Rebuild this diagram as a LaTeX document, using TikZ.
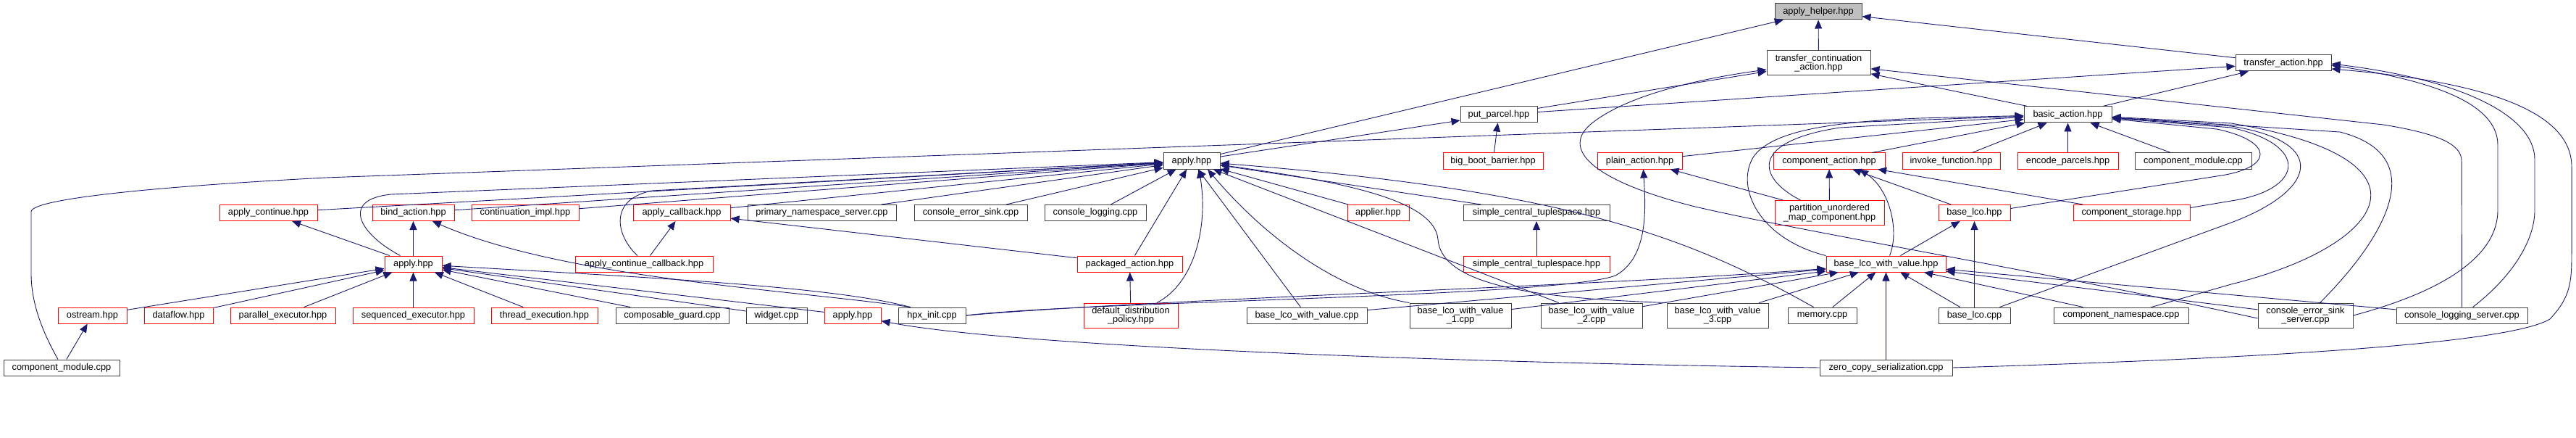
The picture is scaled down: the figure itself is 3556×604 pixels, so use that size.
\documentclass[tikz,border=0pt]{standalone}
\usepackage{fontspec}
\setmainfont{Liberation Sans}
\usepackage{xcolor}
\usetikzlibrary{arrows.meta}
\definecolor{edgeblue}{HTML}{191970}
\definecolor{boxgray}{HTML}{404040}
\definecolor{rootfill}{HTML}{BFBFBF}

\begin{document}
\begin{tikzpicture}[
  x=1pt, y=-1pt,
  box/.style={draw=boxgray, line width=1pt, inner sep=0pt, minimum height=22pt, align=center, font=\fontsize{12.8}{12.6}\selectfont},
  redbox/.style={box, draw=red},
  tall/.style={minimum height=34pt},
  arrow/.style={-{Triangle[length=12pt,width=10pt]}, draw=edgeblue, line width=0.9pt},
]
\useasboundingbox (0,0) rectangle (3556,604);

\node[box, fill=rootfill, minimum width=120pt] (helper) at (2510,16) {apply\_helper.hpp};
\node[box, tall, minimum width=143pt] (tca) at (2510.5,87) {transfer\_continuation\\\_action.hpp};
\node[box, minimum width=132pt] (tra) at (3152,87) {transfer\_action.hpp};
\node[box, minimum width=106pt] (putp) at (2069,158) {put\_parcel.hpp};
\node[box, minimum width=121pt] (basic) at (2854.5,158) {basic\_action.hpp};

\node[box, minimum width=78pt] (apply) at (1645,222) {apply.hpp};
\node[redbox, minimum width=138pt] (bigboot) at (2061,222) {big\_boot\_barrier.hpp};
\node[redbox, minimum width=117pt] (plain) at (2263.5,222) {plain\_action.hpp};
\node[redbox, minimum width=154pt] (compact) at (2525,222) {component\_action.hpp};
\node[redbox, minimum width=135pt] (invoke) at (2693.5,222) {invoke\_function.hpp};
\node[redbox, minimum width=139pt] (encode) at (2854.5,222) {encode\_parcels.hpp};
\node[box, minimum width=161pt] (cmodr) at (3027.5,222) {component\_module.cpp};

\node[redbox, minimum width=135pt] (applycont) at (370.5,293.5) {apply\_continue.hpp};
\node[redbox, minimum width=113pt] (bind) at (570.5,293.5) {bind\_action.hpp};
\node[redbox, minimum width=148pt] (contimpl) at (725,293.5) {continuation\_impl.hpp};
\node[redbox, minimum width=134pt] (applycb) at (941,293.5) {apply\_callback.hpp};
\node[box, minimum width=205pt] (primary) at (1134.5,293.5) {primary\_namespace\_server.cpp};
\node[box, minimum width=156pt] (cesink) at (1340,293.5) {console\_error\_sink.cpp};
\node[box, minimum width=140pt] (clog) at (1512,293.5) {console\_logging.cpp};
\node[redbox, minimum width=85pt] (applier) at (1902.5,293.5) {applier.hpp};
\node[box, minimum width=202pt] (sctsb) at (2121,293.5) {simple\_central\_tuplespace.hpp};
\node[redbox, tall, minimum width=151pt] (partition) at (2525.5,293.5) {partition\_unordered\\\_map\_component.hpp};
\node[redbox, minimum width=99pt] (baselco) at (2725.5,293.5) {base\_lco.hpp};
\node[redbox, minimum width=161pt] (compstor) at (2942.5,293.5) {component\_storage.hpp};

\node[redbox, minimum width=79pt] (applyr) at (570.5,364) {apply.hpp};
\node[redbox, minimum width=190pt] (acc) at (889,364) {apply\_continue\_callback.hpp};
\node[redbox, minimum width=145pt] (packaged) at (1559.5,364) {packaged\_action.hpp};
\node[redbox, minimum width=202pt] (sctsr) at (2121,364) {simple\_central\_tuplespace.hpp};
\node[redbox, minimum width=165pt] (blwv) at (2603.5,364) {base\_lco\_with\_value.hpp};

\node[redbox, minimum width=95pt] (ostream) at (127.5,435) {ostream.hpp};
\node[redbox, minimum width=95pt] (dataflow) at (246.5,435) {dataflow.hpp};
\node[redbox, minimum width=145pt] (parallel) at (390.5,435) {parallel\_executor.hpp};
\node[redbox, minimum width=167pt] (seqexec) at (570.5,435) {sequenced\_executor.hpp};
\node[redbox, minimum width=147pt] (threadex) at (751.5,435) {thread\_execution.hpp};
\node[box, minimum width=156pt] (guard) at (928,435) {composable\_guard.cpp};
\node[box, minimum width=84pt] (widget) at (1072,435) {widget.cpp};
\node[redbox, minimum width=78pt] (applyb) at (1177,435) {apply.hpp};
\node[box, minimum width=93pt] (hpxinit) at (1286.5,435) {hpx\_init.cpp};
\node[redbox, tall, minimum width=130pt] (ddp) at (1561,435) {default\_distribution\\\_policy.hpp};
\node[box, minimum width=166pt] (blwvcpp) at (1804,435) {base\_lco\_with\_value.cpp};
\node[box, tall, minimum width=140pt] (blwv1) at (2016,435) {base\_lco\_with\_value\\\_1.cpp};
\node[box, tall, minimum width=140pt] (blwv2) at (2197,435) {base\_lco\_with\_value\\\_2.cpp};
\node[box, tall, minimum width=140pt] (blwv3) at (2371,435) {base\_lco\_with\_value\\\_3.cpp};
\node[box, minimum width=95pt] (memory) at (2515.5,435) {memory.cpp};
\node[box, minimum width=99pt] (blcpp) at (2725.5,435) {base\_lco.cpp};
\node[box, minimum width=186pt] (compns) at (2928,435) {component\_namespace.cpp};
\node[box, tall, minimum width=131pt] (cessrv) at (3182.5,435) {console\_error\_sink\\\_server.cpp};
\node[box, minimum width=181pt] (clogsrv) at (3398.5,435) {console\_logging\_server.cpp};

\node[box, minimum width=160pt] (cmodl) at (85,507) {component\_module.cpp};
\node[box, minimum width=183pt] (zerocopy) at (2603.5,507) {zero\_copy\_serialization.cpp};

\draw[arrow] (tca) -- (helper);
\draw[arrow] (tra) -- (helper);
\draw[arrow] (apply) -- (helper);
\draw[arrow] (apply) -- (putp);
\draw[arrow] (putp) -- (tca);
\draw[arrow] (putp) -- (tra);
\draw[arrow] (bigboot) -- (putp);
\draw[arrow] (basic) -- (tca);
\draw[arrow] (basic) -- (tra);
\draw[arrow] (clogsrv.north) -- (3398,222) .. controls (3398,200) and (3370,185) .. (3290,172) -- (tca);
\draw[arrow] ([yshift=-4pt]cessrv.west) .. controls (2800,370) and (2500,322) .. (2340,285) .. controls (2200,250) and (2150,205) .. (2200,168) .. controls (2250,130) and (2350,108) .. ([yshift=-9pt]tca.west);
\draw[arrow] ([xshift=15pt]clogsrv.north) .. controls (3470,380) and (3499,330) .. (3499,290) -- (3499,220) .. controls (3499,160) and (3400,110) .. ([yshift=-1pt]tra.east);
\draw[arrow] (cessrv.east) .. controls (3380,400) and (3448,350) .. (3448,290) -- (3448,200) .. controls (3448,140) and (3350,110) .. ([yshift=-3pt]tra.east);
\draw[arrow] (zerocopy.east) .. controls (3200,492) and (3470,470) .. (3520,440) .. controls (3548,410) and (3550,390) .. (3550,350) -- (3550,230) .. controls (3550,150) and (3420,112) .. ([yshift=-8pt]tra.east);

\draw[arrow] ([xshift=-5pt]cmodl.north) .. controls (60,460) and (43,420) .. (43,377) -- (43,292) .. controls (43,275) and (200,258) .. (450,245) -- (basic);
\draw[arrow] (plain) -- (basic);
\draw[arrow] (compact) -- (basic);
\draw[arrow] ([xshift=-40pt]partition.north) .. controls (2425,245) and (2415,195) .. (2540,176) -- (basic);
\draw[arrow] (blwv.north west) .. controls (2430,330) and (2395,260) .. (2420,217) .. controls (2445,180) and (2530,168) .. (2650,163) -- (basic);
\draw[arrow] (invoke) -- (basic);
\draw[arrow] (encode) -- (basic);
\draw[arrow] (cmodr) -- (basic);
\draw[arrow] ([yshift=6pt]baselco.east) -- (3060,243) .. controls (3140,232) and (3140,195) .. (3060,178) -- (basic);
\draw[arrow] ([yshift=7pt]compstor.east) -- (3080,277) .. controls (3180,262) and (3190,200) .. (3080,176) -- (basic);
\draw[arrow] ([xshift=35pt]blcpp.north) -- (3080,307) .. controls (3200,262) and (3215,195) .. (3080,174) -- (basic);
\draw[arrow] ([xshift=42pt]compns.north) -- (3080,392) .. controls (3290,340) and (3380,220) .. (3080,170) -- (basic);
\draw[arrow] ([xshift=20pt]cessrv.north) .. controls (3290,330) and (3360,215) .. (3230,182) -- (basic);

\draw[arrow] (applycont) -- (apply);
\draw[arrow] (bind) -- (apply);
\draw[arrow] (contimpl) -- (apply);
\draw[arrow] (applycb) -- (apply);
\draw[arrow] (primary) -- (apply);
\draw[arrow] (cesink) -- (apply);
\draw[arrow] (clog) -- (apply);
\draw[arrow] (packaged) -- (apply);
\draw[arrow] (applier) -- (apply);
\draw[arrow] (sctsb) -- (apply);
\draw[arrow] (blwvcpp) -- (apply);
\draw[arrow] (blwv2) -- (apply);
\draw[arrow] ([xshift=-18pt]applyr.north) .. controls (495,322) and (470,275) .. (540,268) -- (apply);
\draw[arrow] ([xshift=-9pt]acc.north) .. controls (850,325) and (840,275) .. (900,263) -- (apply);
\draw[arrow] ([xshift=36pt]ddp.north) .. controls (1650,390) and (1668,310) .. ([xshift=10pt]apply.south);
\draw[arrow] (blwv1.north west) .. controls (1840,400) and (1740,320) .. ([xshift=22pt]apply.south);
\draw[arrow] (blwv3.north west) .. controls (2150,412) and (1990,400) .. (1985,330) .. controls (1980,275) and (1850,250) .. (apply);
\draw[arrow] ([xshift=-12pt]memory.north) .. controls (2320,320) and (2150,262) .. (apply);

\draw[arrow] (ostream) -- (applyr);
\draw[arrow] (dataflow) -- (applyr);
\draw[arrow] (parallel) -- (applyr);
\draw[arrow] (seqexec) -- (applyr);
\draw[arrow] (threadex) -- (applyr);
\draw[arrow] (guard) -- (applyr);
\draw[arrow] (widget) -- (applyr);
\draw[arrow] (applyb) -- (applyr);
\draw[arrow] ([xshift=-30pt]hpxinit.north) .. controls (1150,395) and (900,383) .. (applyr);
\draw[arrow] ([xshift=-30pt]hpxinit.north) .. controls (1100,400) and (780,385) .. (bind);
\draw[arrow] (applyr) -- (applycont);
\draw[arrow] (applyr) -- (bind);
\draw[arrow] (acc) -- (applycb);
\draw[arrow] (packaged) -- (applycb);
\draw[arrow] (ddp) -- (packaged);
\draw[arrow] (sctsr) -- (sctsb);
\draw[arrow] (cmodl) -- (ostream);
\draw[arrow] (zerocopy.west) .. controls (2000,500) and (1400,478) .. (applyb);

\draw[arrow] (hpxinit.east) .. controls (1500,415) and (2150,410) .. (2230,380) .. controls (2275,355) and (2272,290) .. ([xshift=5pt]plain.south);
\draw[arrow] (hpxinit.east) .. controls (1600,412) and (2200,395) .. (blwv);
\draw[arrow] (partition) -- (plain);
\draw[arrow] (partition) -- (compact);
\draw[arrow] ([xshift=5pt]blwv.north) .. controls (2622,320) and (2610,262) .. ([xshift=42pt]compact.south);
\draw[arrow] (baselco) -- (compact);
\draw[arrow] (compstor) -- (compact);
\draw[arrow] (blwv) -- (baselco);
\draw[arrow] (blcpp) -- (baselco);

\draw[arrow] (blwvcpp) -- (blwv);
\draw[arrow] (blwv1) -- (blwv);
\draw[arrow] (blwv2) -- (blwv);
\draw[arrow] (blwv3) -- (blwv);
\draw[arrow] (memory) -- (blwv);
\draw[arrow] (zerocopy) -- (blwv);
\draw[arrow] (blcpp) -- (blwv);
\draw[arrow] (compns) -- (blwv);
\draw[arrow] (clogsrv) -- (blwv);
\draw[arrow] (cessrv) -- (blwv);
\end{tikzpicture}
\end{document}
